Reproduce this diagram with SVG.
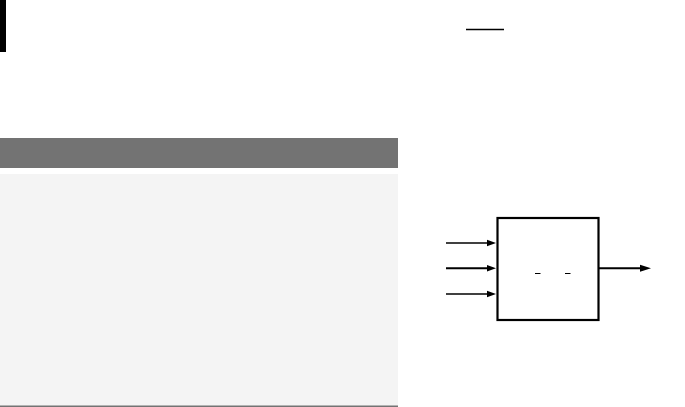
<svg xmlns="http://www.w3.org/2000/svg" width="685" height="407" viewBox="0 0 685 407">
<style>
.thin{stroke:#000;stroke-width:1.3;fill:none}
.thick{stroke:#000;stroke-width:2;fill:none}
.head{fill:#000}
</style>
<rect width="685" height="407" fill="#fff"/>
<g id="left-bar"><rect x="0" y="0" width="6" height="52" fill="#000"/></g>
<g id="top-rule"><line x1="466" y1="29.5" x2="504" y2="29.5" stroke="#000" stroke-width="1.5"/></g>
<g id="header-band"><rect x="0" y="138" width="398" height="30" fill="#737373"/></g>
<g id="panel">
<rect x="0" y="174" width="398" height="232" fill="#f4f4f4"/>
<line x1="0" y1="406.2" x2="398" y2="406.2" stroke="#737373" stroke-width="1.6"/>
</g>
<g id="block">
<rect x="497.5" y="218" width="101" height="102" fill="#fff" stroke="#000" stroke-width="2.2"/>
<line x1="535" y1="273.5" x2="540.5" y2="273.5" stroke="#000" stroke-width="1"/>
<line x1="565" y1="273.5" x2="570.5" y2="273.5" stroke="#000" stroke-width="1"/>
</g>
<g id="connectors">
<line class="thin" x1="446" y1="243" x2="488" y2="243"/>
<polygon class="head" points="487,239.8 496,243 487,246.2"/>
<line class="thick" x1="446" y1="268.3" x2="488" y2="268.3"/>
<polygon class="head" points="487,265 496,268.3 487,271.6"/>
<line class="thin" x1="446" y1="294" x2="488" y2="294"/>
<polygon class="head" points="487,290.8 496,294 487,297.2"/>
<line class="thick" x1="599" y1="268.3" x2="641" y2="268.3"/>
<polygon class="head" points="640,264.8 651,268.3 640,271.8"/>
</g>
</svg>
